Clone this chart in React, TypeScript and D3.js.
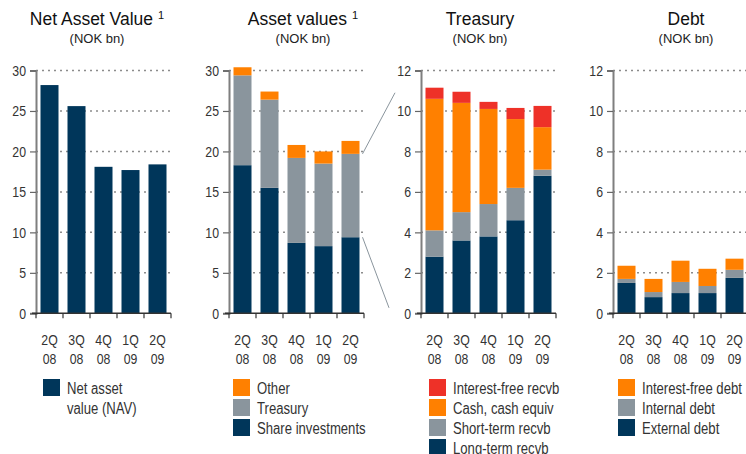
import { useEffect, useRef } from "react";
import * as d3 from "d3";

const quarters = ["2Q 08", "3Q 08", "4Q 08", "1Q 09", "2Q 09"];

const navValues = [28.2, 25.6, 18.1, 17.7, 18.4];

const assetShare = [18.3, 15.5, 8.7, 8.3, 9.4];
const assetTreasury = [11.1, 10.9, 10.5, 10.2, 10.3];
const assetOther = [1.0, 1.0, 1.6, 1.5, 1.6];

const treasLongTerm = [2.8, 3.6, 3.8, 4.6, 6.8];
const treasShortTerm = [1.3, 1.4, 1.6, 1.6, 0.3];
const treasCash = [6.5, 5.4, 4.7, 3.4, 2.1];
const treasInterestFree = [0.55, 0.55, 0.35, 0.55, 1.05];

const debtExternal = [1.5, 0.8, 1.0, 1.0, 1.75];
const debtInternal = [0.2, 0.25, 0.55, 0.35, 0.4];
const debtInterestFree = [0.65, 0.65, 1.05, 0.85, 0.55];

const navy = "#00365a";
const grey = "#8a959d";
const orange = "#ff8000";
const red = "#ee3128";

export default function App() {
  const ref = useRef<SVGSVGElement>(null);

  useEffect(() => {
    const svg = d3.select(ref.current);
    svg.selectAll("*").remove();

    const width = 746;
    const height = 454;
    const plotTop = 70.5;
    const plotBottom = 313.3;
    const plotW = 135;
    const font = "'Liberation Sans', Arial, sans-serif";
    const squeeze = 0.82; // no narrow font installed, so condense horizontally

    svg.attr("width", width).attr("height", height);
    svg.append("rect").attr("width", width).attr("height", height).attr("fill", "#fff");

    const narrowText = (parent: any, x: number, y: number, txt: string, size: number, anchor = "start") =>
      parent.append("text")
        .attr("transform", `translate(${x},${y}) scale(${squeeze},1)`)
        .attr("text-anchor", anchor)
        .attr("font-family", font)
        .attr("font-size", size)
        .attr("fill", "#333")
        .text(txt);

    // series listed bottom-up; legend is drawn top-down (reversed)
    const panels = [
      {
        left: 36, titleX: 97, title: "Net Asset Value", sup: true, max: 30, step: 5, legendX: 43,
        series: [{ name: "Net asset\nvalue (NAV)", values: navValues, color: navy }]
      },
      {
        left: 229, titleX: 303, title: "Asset values", sup: true, max: 30, step: 5, legendX: 233,
        series: [
          { name: "Share investments", values: assetShare, color: navy },
          { name: "Treasury", values: assetTreasury, color: grey },
          { name: "Other", values: assetOther, color: orange }
        ]
      },
      {
        left: 421, titleX: 480, title: "Treasury", sup: false, max: 12, step: 2, legendX: 429,
        series: [
          { name: "Long-term recvb", values: treasLongTerm, color: navy },
          { name: "Short-term recvb", values: treasShortTerm, color: grey },
          { name: "Cash, cash equiv", values: treasCash, color: orange },
          { name: "Interest-free recvb", values: treasInterestFree, color: red }
        ]
      },
      {
        left: 613, titleX: 686, title: "Debt", sup: false, max: 12, step: 2, legendX: 618,
        series: [
          { name: "External debt", values: debtExternal, color: navy },
          { name: "Internal debt", values: debtInternal, color: grey },
          { name: "Interest-free debt", values: debtInterestFree, color: orange }
        ]
      }
    ];

    const scales: any[] = [];

    panels.forEach(p => {
      const x = d3.scaleBand()
        .domain(quarters)
        .range([0, plotW])
        .paddingInner(1 / 3)
        .paddingOuter(1 / 6);

      const y = d3.scaleLinear()
        .domain([0, p.max])
        .range([plotBottom, plotTop]);

      scales.push({ x, y, left: p.left });

      // title
      const title = svg.append("text")
        .attr("x", p.titleX)
        .attr("y", 25)
        .attr("text-anchor", "middle")
        .attr("font-family", font)
        .attr("font-size", 17.5)
        .attr("fill", "#111")
        .text(p.title);
      if (p.sup) {
        title.append("tspan").attr("font-size", 11).attr("dx", 5).attr("dy", -6).text("1");
      }
      svg.append("text")
        .attr("x", p.titleX)
        .attr("y", 43)
        .attr("text-anchor", "middle")
        .attr("font-family", font)
        .attr("font-size", 13)
        .attr("fill", "#222")
        .text("(NOK bn)");

      const g = svg.append("g").attr("transform", `translate(${p.left},0)`);

      const ticks = d3.range(0, p.max + p.step / 2, p.step);

      // dotted gridlines
      g.selectAll(".grid")
        .data(ticks.filter(t => t > 0))
        .join("line")
        .attr("x1", 0)
        .attr("x2", plotW)
        .attr("y1", d => y(d))
        .attr("y2", d => y(d))
        .attr("stroke", "#8c8c8c")
        .attr("stroke-width", 1.5)
        .attr("stroke-dasharray", "2,4");

      // stacked bars
      const keys = p.series.map((s, i) => "s" + i);
      const rows = quarters.map((q, qi) => {
        const row: any = { q };
        p.series.forEach((s, i) => { row["s" + i] = s.values[qi]; });
        return row;
      });
      const stacked = d3.stack().keys(keys)(rows);

      stacked.forEach((layer, li) => {
        g.selectAll(null)
          .data(layer)
          .join("rect")
          .attr("x", (d: any) => x(d.data.q))
          .attr("width", x.bandwidth())
          .attr("y", d => y(d[1]))
          .attr("height", d => y(d[0]) - y(d[1]))
          .attr("fill", p.series[li].color);
      });

      // y axis (labels drawn separately so they can be condensed)
      const yAxis = g.append("g")
        .call(d3.axisLeft(y).tickValues(ticks).tickSize(6).tickFormat(() => ""));
      yAxis.select(".domain").attr("stroke", "#7f7f7f").attr("stroke-width", 2);
      yAxis.selectAll(".tick line").attr("stroke", "#666").attr("stroke-width", 1.2);
      ticks.forEach(t => narrowText(g, -10, y(t) + 5.5, String(t), 15, "end"));

      // x axis baseline with boundary ticks
      g.append("line")
        .attr("x1", -4)
        .attr("x2", plotW)
        .attr("y1", plotBottom)
        .attr("y2", plotBottom)
        .attr("stroke", "#333")
        .attr("stroke-width", 1.5);

      const gap = (x.step() - x.bandwidth()) / 2;
      const bounds = quarters.map(q => (x(q) as number) - gap).concat([plotW]);
      g.selectAll(".xtick")
        .data(bounds)
        .join("line")
        .attr("x1", d => d)
        .attr("x2", d => d)
        .attr("y1", plotBottom)
        .attr("y2", plotBottom + 5)
        .attr("stroke", "#333")
        .attr("stroke-width", 1.2);

      quarters.forEach(q => {
        q.split(" ").forEach((part, i) => {
          narrowText(g, (x(q) as number) + x.bandwidth() / 2, 345 + i * 19, part, 15, "middle");
        });
      });

      // legend
      const legendItems = p.series.slice().reverse();
      legendItems.forEach((s, i) => {
        const ly = 379 + i * 20;
        svg.append("rect")
          .attr("x", p.legendX)
          .attr("y", ly)
          .attr("width", 17)
          .attr("height", 17)
          .attr("fill", s.color);
        s.name.split("\n").forEach((line, li) => {
          narrowText(svg, p.legendX + 24, ly + 15 + li * 20, line, 16);
        });
      });
    });

    // connector lines from the treasury slice of the latest asset bar to the treasury panel
    const a = scales[1];
    const t = scales[2];
    const last = quarters.length - 1;
    const lastQ = quarters[last];
    const fromX = a.left + a.x(lastQ) + a.x.bandwidth() + 3;
    const treasTop = assetShare[last] + assetTreasury[last];
    svg.append("line")
      .attr("x1", fromX)
      .attr("y1", a.y(treasTop))
      .attr("x2", t.left - 26)
      .attr("y2", t.y(10.9))
      .attr("stroke", "#8a959d")
      .attr("stroke-width", 1);
    svg.append("line")
      .attr("x1", fromX)
      .attr("y1", a.y(assetShare[last]))
      .attr("x2", t.left - 32)
      .attr("y2", t.y(0.27))
      .attr("stroke", "#8a959d")
      .attr("stroke-width", 1);
  }, []);

  return <svg ref={ref} style={{ position: "absolute", left: 0, top: 0 }}></svg>;
}
